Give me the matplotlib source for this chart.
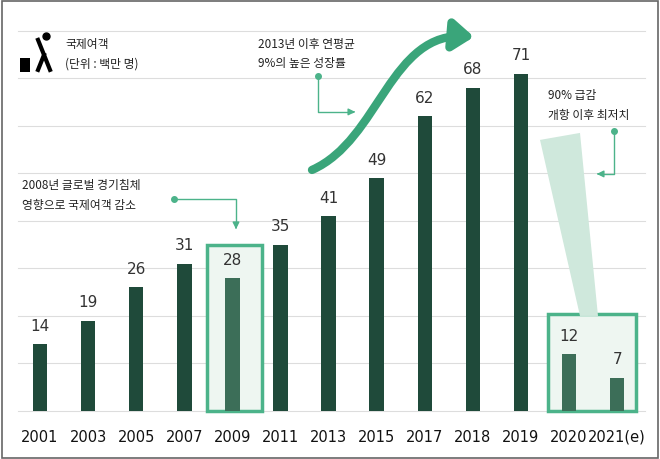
import matplotlib
matplotlib.use("Agg")
import matplotlib.pyplot as plt
from matplotlib.patches import Rectangle, Polygon, FancyArrowPatch
from matplotlib.path import Path

years = ["2001","2003","2005","2007","2009","2011","2013","2015","2017","2018","2019","2020","2021(e)"]
passengers = [14,19,26,31,28,35,41,49,62,68,71,12,7]
highlight = [False,False,False,False,True,False,False,False,False,False,False,True,True]

plt.rcParams['font.family'] = ['Noto Sans CJK KR','Noto Sans CJK JP','Noto Sans CJK SC','DejaVu Sans']
fig = plt.figure(figsize=(6.6,4.59), dpi=100)
ax = fig.add_axes([0,0,1,1])
ax.set_xlim(-0.832, 12.89)
ax.set_ylim(-10.1, 86.5)
ax.axis('off')

def px(x): return (x-40)/48.1
def py(y): return (411-y)/4.75

fig.add_artist(Rectangle((0.003,0.003),0.994,0.994, transform=fig.transFigure, fill=False, ec='#666666', lw=1.2))

for g in range(0,90,10):
    ax.plot([px(18),px(645)],[g,g], color='#dddddd', lw=0.8, zorder=0)

green = '#4cb38a'
ax.add_patch(Rectangle((px(207),0), px(262)-px(207), py(245), fc='#eef6f1', ec=green, lw=2.5, zorder=1))
ax.add_patch(Rectangle((px(548),0), px(636)-px(548), py(314), fc='#eef6f1', ec=green, lw=2.5, zorder=1))
ax.add_patch(Polygon([(px(540),py(140)),(px(580),py(133)),(px(598),py(316)),(px(580),py(316))], closed=True, fc='#cfe8dc', ec='none', zorder=1))

for i,(v,h) in enumerate(zip(passengers,highlight)):
    ax.bar(i, v, width=0.3, color='#3c6e58' if h else '#1f4a3a', zorder=2)
    ax.text(i, v+2.2, str(v), ha='center', va='bottom', fontsize=11, color='#333333', family='DejaVu Sans', zorder=3)
    ax.text(i, py(437), years[i], ha='center', va='center', fontsize=10.5, color='#111111', family='DejaVu Sans')

verts = [(px(312),py(170)),(px(380),py(140)),(px(390),py(30)),(px(474),py(37))]
path = Path(verts,[Path.MOVETO,Path.CURVE4,Path.CURVE4,Path.CURVE4])
ax.add_patch(FancyArrowPatch(path=path, arrowstyle='-|>,head_length=4,head_width=3', lw=6, color='#3aa57a', mutation_scale=3, zorder=4))

fs = 8.5
tc = '#222222'
ax.text(px(65),py(45),'국제여객', fontsize=fs, va='center', color=tc)
ax.text(px(65),py(64),'(단위 : 백만 명)', fontsize=fs, va='center', color=tc)
ax.text(px(258),py(45),'2013년 이후 연평균', fontsize=fs, va='center', color=tc)
ax.text(px(258),py(64),'9%의 높은 성장률', fontsize=fs, va='center', color=tc)
ax.text(px(548),py(96),'90% 급감', fontsize=fs, va='center', color=tc)
ax.text(px(548),py(116),'개항 이후 최저치', fontsize=fs, va='center', color=tc)
ax.text(px(22),py(186),'2008년 글로벌 경기침체', fontsize=fs, va='center', color=tc)
ax.text(px(22),py(206),'영향으로 국제여객 감소', fontsize=fs, va='center', color=tc)

lc = green
ax.plot([px(318),px(318),px(352)],[py(76),py(112),py(112)], color=lc, lw=1)
ax.plot([px(318)],[py(76)], 'o', color=lc, ms=4)
ax.annotate('', xy=(px(358),py(112)), xytext=(px(350),py(112)), arrowprops=dict(arrowstyle='-|>', color=lc, lw=1))
ax.plot([px(174),px(236),px(236)],[py(199),py(199),py(225)], color=lc, lw=1)
ax.plot([px(174)],[py(199)], 'o', color=lc, ms=4)
ax.annotate('', xy=(px(236),py(232)), xytext=(px(236),py(224)), arrowprops=dict(arrowstyle='-|>', color=lc, lw=1))
ax.plot([px(614),px(614),px(600)],[py(131),py(174),py(174)], color=lc, lw=1)
ax.plot([px(614)],[py(131)], 'o', color=lc, ms=4)
ax.annotate('', xy=(px(594),py(174)), xytext=(px(602),py(174)), arrowprops=dict(arrowstyle='-|>', color=lc, lw=1))

# traveler icon (simple)
ax.plot([px(38),px(44),px(50)],[py(40),py(55),py(70)], color='black', lw=3)
ax.plot([px(44),px(38)],[py(55),py(70)], color='black', lw=3)
ax.plot([px(46)],[py(36)],'o', color='black', ms=5)
ax.add_patch(Rectangle((px(20),py(72)), px(30)-px(20), py(58)-py(72), fc='black'))

fig.savefig('out.png', dpi=100)
